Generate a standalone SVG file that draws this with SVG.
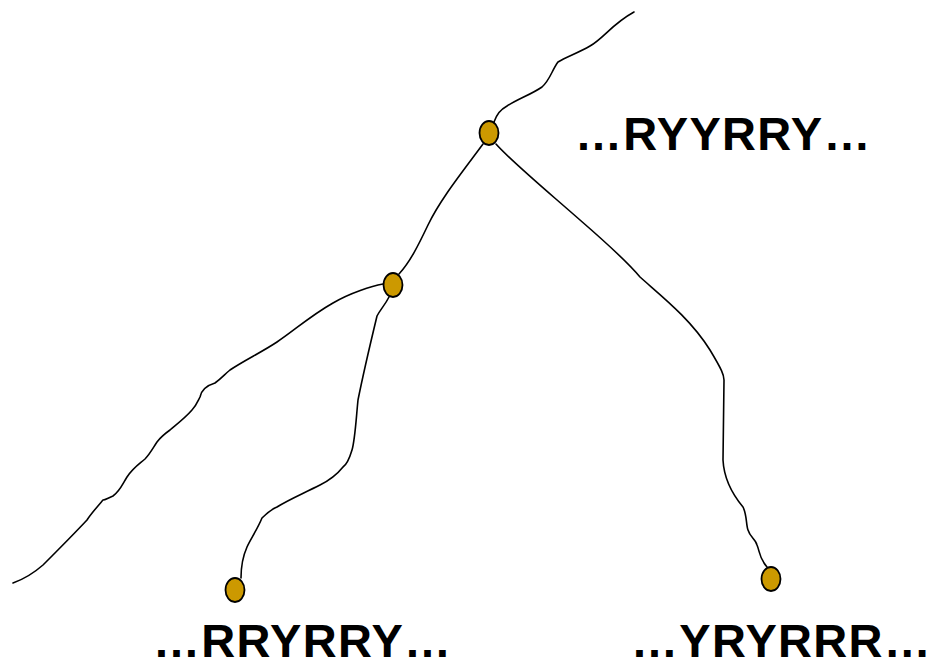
<svg xmlns="http://www.w3.org/2000/svg" width="932" height="668" viewBox="0 0 932 668">
  <style>
    .edge { fill: none; stroke: #000; stroke-width: 1.6; stroke-linecap: round; stroke-linejoin: round; }
    .node { fill: #CC9900; stroke: #000; stroke-width: 1.8; }
    .label { font-family: "Liberation Sans", Arial, sans-serif; font-weight: bold; font-size: 47px; letter-spacing: 1.3px; fill: #000; }
  </style>
  <rect width="932" height="668" fill="#fff"/>

  <g id="connectors">
    <!-- stem above the root -->
    <path class="edge" d="M494,122 C497,114 500,110 507,106 C518,99 532,94 542,87 C550,80 552,70 558,62 C566,57 578,53 590,46 C604,38 612,24 634,12"/>
    <!-- root to inner node -->
    <path class="edge" d="M483,144 C460,175 440,200 428,225 C418,246 410,262 399,274"/>
    <!-- root to right leaf -->
    <path class="edge" d="M496,144 C510,160 540,185 580,220 C610,246 630,265 640,277 C660,295 690,318 710,350 C722,370 724,375 724,380 C724,400 723,440 723,460 C724,480 733,495 743,507 C747,515 746,525 748,530 C750,537 756,540 757,545 C760,552 759,558 767,567"/>
    <!-- inner node to open branch on the left -->
    <path class="edge" d="M383,284 C372,286 350,293 333,303 C310,316 295,330 277,342 C262,352 245,360 230,370 C225,374 222,378 215,383 C205,386 201,392 200,397 C197,403 196,406 192,410 C185,418 177,424 170,430 C163,435 160,438 157,442 C153,448 150,454 145,459 C138,465 133,468 127,477 C122,485 120,491 113,496 C108,498 105,500 103,500 C97,507 90,515 87,520 C72,536 57,551 43,565 C35,572 27,578 13,583"/>
    <!-- inner node to left leaf -->
    <path class="edge" d="M389,297 C385,305 380,310 377,316 C370,345 363,375 358,400 C356,420 355,440 352,450 C349,460 346,465 343,467 C335,477 328,481 320,485 C300,495 288,500 277,507 C270,510 265,515 262,518 C257,530 250,540 247,547 C243,556 241,565 241,578"/>
  </g>

  <g id="root">
    <ellipse class="node" cx="489" cy="133" rx="9.5" ry="12"/>
  </g>
  <g id="inner">
    <ellipse class="node" cx="393" cy="285" rx="9.5" ry="12"/>
  </g>
  <g id="leaf-left">
    <ellipse class="node" cx="235" cy="590" rx="9.5" ry="12"/>
  </g>
  <g id="leaf-right">
    <ellipse class="node" cx="771" cy="579" rx="9.5" ry="12"/>
  </g>

  <g id="labels">
    <text class="label" x="575" y="150">…RYYRRY…</text>
    <text class="label" x="153" y="657">…RRYRRY…</text>
    <text class="label" x="631" y="657">…YRYRRR…</text>
  </g>
</svg>
